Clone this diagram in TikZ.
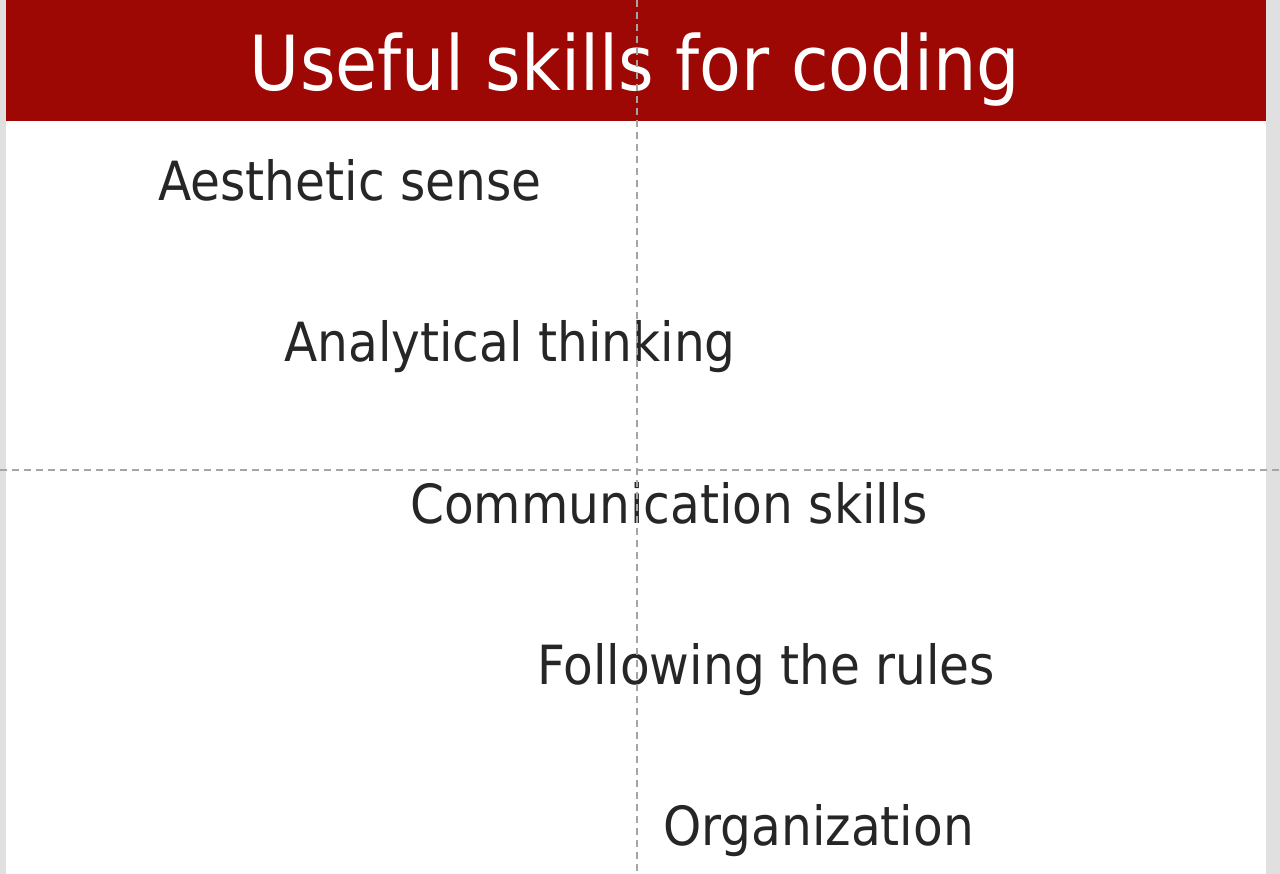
\documentclass[tikz,border=0pt]{standalone}
\usepackage{fontspec}
\setmainfont{DejaVu Sans}[FakeStretch=0.9]
\definecolor{headred}{RGB}{157,8,4}
\definecolor{skilltext}{RGB}{38,38,38}
\definecolor{guidegray}{RGB}{165,165,165}
\definecolor{edgegray}{RGB}{224,224,224}

\begin{document}
\begin{tikzpicture}[x=1pt, y=-1pt,
  skill/.style = {anchor=base west, inner sep=0pt, text=skilltext, font=\fontsize{54}{60}\selectfont},
  title/.style = {anchor=base, inner sep=0pt, text=white, font=\fontsize{76}{84}\selectfont},
  guide/.style = {draw=guidegray, line width=1.6pt, dash pattern=on 7pt off 5pt}]
\useasboundingbox (0,0) rectangle (1280,874);
\fill[edgegray] (0,0) rectangle (1280,874);
\fill[white] (6,0) rectangle (1266,874);
\fill[headred] (6,0) rectangle (1266,121);
\node[title] (head) at (635,91) {Useful skills for coding};
\node[skill] (aesthetic) at (158,201) {Aesthetic sense};
\node[skill] (analytical) at (284,362) {Analytical thinking};
\node[skill] (communication) at (410,523) {Communication skills};
\node[skill] (rules) at (537,684) {Following the rules};
\node[skill] (organization) at (663,845) {Organization};
\coordinate (vtop) at (637,0);
\coordinate (vbot) at (637,874);
\coordinate (hleft) at (0,470);
\coordinate (hright) at (1280,470);
\draw[guide] (vtop) -- (vbot);
\draw[guide] (hleft) -- (hright);
\end{tikzpicture}
\end{document}
